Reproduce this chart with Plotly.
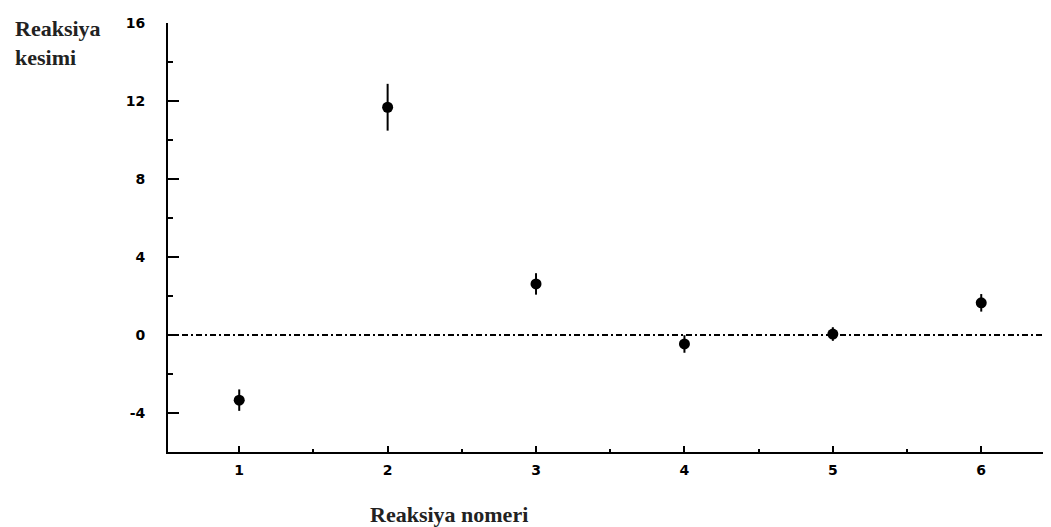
import plotly.graph_objects as go

reactions = [1, 2, 3, 4, 5, 6]
values = [-3.34, 11.68, 2.62, -0.46, 0.05, 1.65]
errors = [0.55, 1.2, 0.55, 0.45, 0.35, 0.45]
y_ticks = [16, 12, 8, 4, 0, -4]
x_ticks = [1, 2, 3, 4, 5, 6]

OFF = 8  # page body margin
W, H = 1051, 527 - OFF
L, R, T, B = 168 - OFF, 0, 23 - OFF, 527 - 452
pw = W - L - R
ph = H - T - B


def px(xp):
    return (xp - OFF - L) / pw


def py(yp):
    return (H - B - (yp - OFF)) / ph


fig = go.Figure()
fig.add_trace(go.Scatter(
    x=reactions, y=values, mode="markers",
    marker=dict(color="black", size=11, symbol="circle"),
    error_y=dict(type="data", array=errors, visible=True, color="black", thickness=2, width=0),
    showlegend=False,
))

fig.add_shape(type="line", xref="paper", yref="y", x0=0, x1=1, y0=0, y1=0,
              line=dict(color="black", width=2, dash="6px,3px,2px,3px"), layer="below")

tickfont = dict(family="DejaVu Sans", size=14, color="black", weight="bold")

fig.update_xaxes(
    range=[0.52, 6.524], tickvals=x_ticks, ticktext=[str(v) for v in x_ticks],
    showline=True, linecolor="black", linewidth=2, mirror=False,
    ticks="inside", ticklen=6, tickwidth=2, tickcolor="black",
    minor=dict(tick0=0.5, dtick=1, ticks="inside", ticklen=3, tickwidth=2, tickcolor="black"),
    showgrid=False, zeroline=False, tickfont=tickfont, ticklabelstandoff=4,
)
fig.update_yaxes(
    range=[-6, 16], tickvals=y_ticks, ticktext=[str(v) for v in y_ticks],
    showline=True, linecolor="black", linewidth=2, mirror=False,
    ticks="inside", ticklen=11, tickwidth=1.5, tickcolor="black",
    minor=dict(tick0=0, dtick=2, ticks="inside", ticklen=5, tickwidth=1.5, tickcolor="black"),
    showgrid=False, zeroline=False, tickfont=tickfont, ticklabelstandoff=18,
)

title_font = dict(family="Liberation Serif", size=22, color="#222", weight="bold")
fig.add_annotation(text="Reaksiya<br>kesimi", xref="paper", yref="paper",
                   x=px(13), y=py(14), xanchor="left", yanchor="top",
                   align="left", showarrow=False, font=title_font)
fig.add_annotation(text="Reaksiya nomeri", xref="paper", yref="paper",
                   x=px(449), y=py(514), xanchor="center", yanchor="middle",
                   showarrow=False, font=title_font)

fig.update_layout(
    width=W, height=H, margin=dict(l=L, r=R, t=T, b=B),
    paper_bgcolor="white", plot_bgcolor="white",
)
fig.write_html("out.html")
